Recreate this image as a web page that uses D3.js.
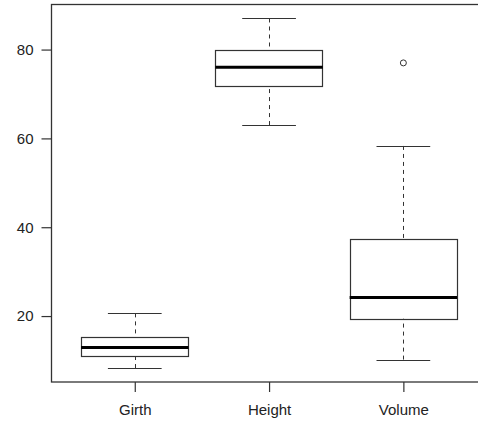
<!DOCTYPE html>
<html>
<head>
<meta charset="utf-8">
<script src="https://cdn.jsdelivr.net/npm/d3@7"></script>
<style>
  body { margin: 0; background: #fff; }
  svg { display: block; }
</style>
</head>
<body>
<svg id="chart"></svg>
<script>
const WIDTH = 478;
const HEIGHT = 423;

// trees data summary
const CATEGORIES = ["Girth", "Height", "Volume"];
const LOWER_WHISKER = [8.3, 63, 10.2];
const Q1 = [11.05, 72, 19.4];
const MEDIAN = [12.9, 76, 24.2];
const Q3 = [15.25, 80, 37.3];
const UPPER_WHISKER = [20.6, 87, 58.3];
const OUTLIERS = [[], [], [77.0]];
const Y_TICKS = [20, 40, 60, 80];

const LEFT = 51.5, TOP = 4.5, BOTTOM = 382;
const LINE = "#333";

window.onload = function(){
    let svg = d3.select("#chart")
        .attr("width", WIDTH)
        .attr("height", HEIGHT);

    // R pads the range by 4% on each side
    let yScale = d3.scaleLinear()
        .domain([5.152, 90.148])
        .range([BOTTOM, TOP]);

    let xScale = d3.scaleLinear()
        .domain([0.38, 3.62])
        .range([LEFT, LEFT + 3.24 * 134.3]);

    let data = CATEGORIES.map(function(c, i){
        return { name: c, pos: i + 1, lo: LOWER_WHISKER[i], q1: Q1[i],
                 med: MEDIAN[i], q3: Q3[i], hi: UPPER_WHISKER[i], out: OUTLIERS[i] };
    });

    let boxHalf = 0.4, capHalf = 0.2;
    let r = function(v){ return Math.round(v) + 0.5; };

    // plot frame
    svg.append("rect")
        .attr("x", LEFT).attr("y", TOP)
        .attr("width", xScale(3.62) - LEFT)
        .attr("height", BOTTOM - TOP)
        .attr("fill", "none")
        .attr("stroke", LINE)
        .attr("stroke-width", 1.3);

    let g = svg.selectAll("g.box")
        .data(data)
        .enter()
        .append("g")
        .attr("class", "box");

    // dashed whiskers, drawn from the end to the hinge
    g.append("line")
        .attr("x1", function(d){ return r(xScale(d.pos)); })
        .attr("x2", function(d){ return r(xScale(d.pos)); })
        .attr("y1", function(d){ return yScale(d.lo); })
        .attr("y2", function(d){ return yScale(d.q1); })
        .attr("stroke", LINE).attr("stroke-dasharray", "4,4");
    g.append("line")
        .attr("x1", function(d){ return r(xScale(d.pos)); })
        .attr("x2", function(d){ return r(xScale(d.pos)); })
        .attr("y1", function(d){ return yScale(d.hi); })
        .attr("y2", function(d){ return yScale(d.q3); })
        .attr("stroke", LINE).attr("stroke-dasharray", "4,4");

    // whisker caps
    ["lo", "hi"].forEach(function(k){
        g.append("line")
            .attr("x1", function(d){ return xScale(d.pos - capHalf); })
            .attr("x2", function(d){ return xScale(d.pos + capHalf); })
            .attr("y1", function(d){ return r(yScale(d[k])); })
            .attr("y2", function(d){ return r(yScale(d[k])); })
            .attr("stroke", LINE).attr("stroke-width", 1.2);
    });

    // boxes
    g.append("rect")
        .attr("x", function(d){ return r(xScale(d.pos - boxHalf)); })
        .attr("y", function(d){ return r(yScale(d.q3)); })
        .attr("width", function(d){ return Math.round(xScale(d.pos + boxHalf) - xScale(d.pos - boxHalf)); })
        .attr("height", function(d){ return Math.round(yScale(d.q1) - yScale(d.q3)); })
        .attr("fill", "none")
        .attr("stroke", LINE).attr("stroke-width", 1.2);

    // medians
    g.append("line")
        .attr("x1", function(d){ return xScale(d.pos - boxHalf); })
        .attr("x2", function(d){ return xScale(d.pos + boxHalf); })
        .attr("y1", function(d){ return yScale(d.med); })
        .attr("y2", function(d){ return yScale(d.med); })
        .attr("stroke", "#000").attr("stroke-width", 3);

    // outliers
    g.selectAll("circle")
        .data(function(d){ return d.out.map(function(v){ return { pos: d.pos, v: v }; }); })
        .enter()
        .append("circle")
        .attr("cx", function(d){ return xScale(d.pos); })
        .attr("cy", function(d){ return yScale(d.v); })
        .attr("r", 3)
        .attr("fill", "none")
        .attr("stroke", LINE);

    // y axis
    let yAxis = d3.axisLeft(yScale)
        .tickValues(Y_TICKS)
        .tickSize(10)
        .tickPadding(8);
    let ya = svg.append("g")
        .attr("transform", "translate(" + LEFT + ",0)")
        .call(yAxis);
    ya.select(".domain").remove();

    // x axis
    let xAxis = d3.axisBottom(xScale)
        .tickValues([1, 2, 3])
        .tickFormat(function(d){ return CATEGORIES[d - 1]; })
        .tickSize(10)
        .tickPadding(12);
    let xa = svg.append("g")
        .attr("transform", "translate(0," + BOTTOM + ")")
        .call(xAxis);
    xa.select(".domain").remove();

    svg.selectAll(".tick line").attr("stroke", LINE).attr("stroke-width", 1.2);
    svg.selectAll(".tick text")
        .attr("fill", "#222")
        .style("font-family", "Arial, 'Liberation Sans', sans-serif")
        .style("font-size", "15px");
};
</script>
</body>
</html>
